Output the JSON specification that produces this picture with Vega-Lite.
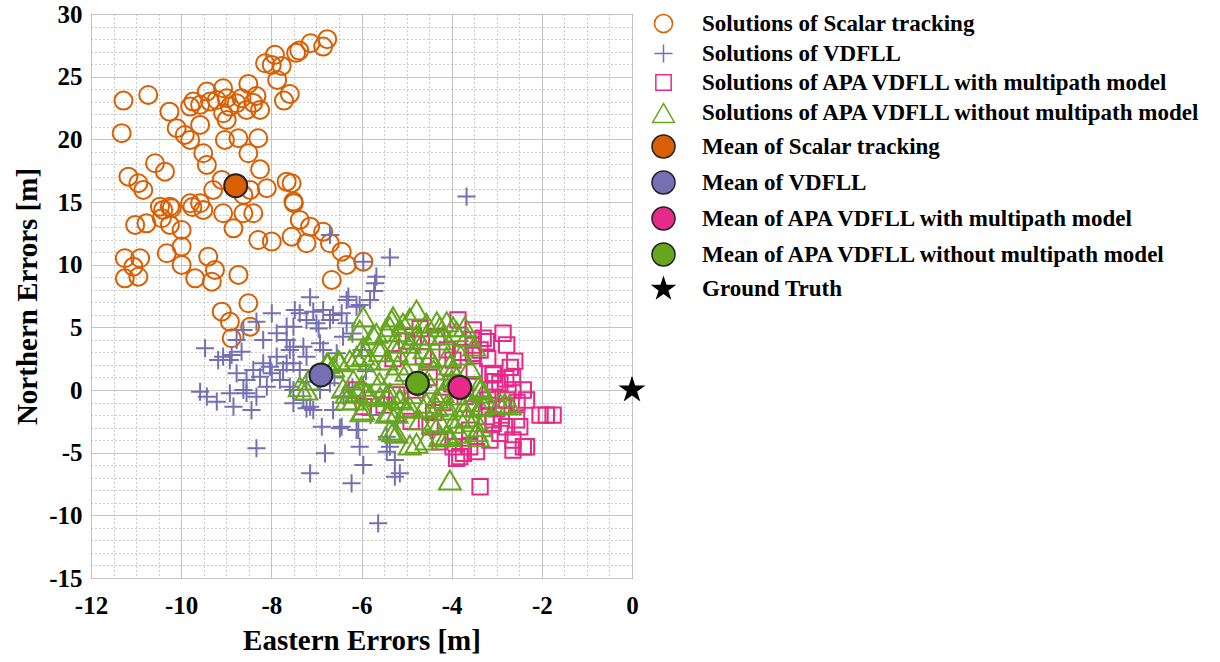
{
"$schema":"https://vega.github.io/schema/vega-lite/v6.json",
"width":541,"height":564,
"autosize":{"type":"none"},
"padding":{"left":91,"top":14,"right":588,"bottom":84},
"background":"white",
"config":{
 "view":{"stroke":"#333333","strokeWidth":1},
 "axis":{"labelFont":"Liberation Serif","labelFontWeight":"bold","labelFontSize":25,"labelColor":"#000","titleFont":"Liberation Serif","titleFontWeight":"bold","titleFontSize":29,"titleColor":"#000","ticks":false,"domain":false,"labelOverlap":false,"labelFlush":false,"grid":true,"gridWidth":1},
 "legend":{"labelFont":"Liberation Serif","labelFontWeight":"bold","labelFontSize":23,"labelColor":"#000","labelLimit":700,"padding":0,"labelOffset":26,"rowPadding":5}
},
"data":{"values":[
{"s":"S","e":-6.76,"n":27.99},{"s":"S","e":-6.85,"n":27.4},{"s":"S","e":-7.13,"n":27.67},{"s":"S","e":-7.38,"n":27.08},{"s":"S","e":-7.45,"n":26.9},{"s":"S","e":-7.92,"n":26.74},{"s":"S","e":-8.14,"n":26.07},{"s":"S","e":-7.99,"n":25.94},{"s":"S","e":-7.77,"n":25.86},{"s":"S","e":-7.87,"n":24.74},
{"s":"S","e":-7.59,"n":23.62},{"s":"S","e":-7.72,"n":23.09},{"s":"S","e":-8.51,"n":24.42},{"s":"S","e":-8.33,"n":23.46},{"s":"S","e":-8.4,"n":22.91},{"s":"S","e":-8.25,"n":22.35},{"s":"S","e":-8.55,"n":22.35},{"s":"S","e":-9.07,"n":24.08},{"s":"S","e":-9.43,"n":23.81},{"s":"S","e":-9.73,"n":23.01},
{"s":"S","e":-9.8,"n":22.61},{"s":"S","e":-9.58,"n":22.75},{"s":"S","e":-9.36,"n":23.01},{"s":"S","e":-9.21,"n":23.14},{"s":"S","e":-8.99,"n":23.28},{"s":"S","e":-8.92,"n":22.61},{"s":"S","e":-9.07,"n":22.08},{"s":"S","e":-8.77,"n":22.88},{"s":"S","e":-8.66,"n":23.28},{"s":"S","e":-11.28,"n":23.09},
{"s":"S","e":-10.73,"n":23.54},{"s":"S","e":-10.26,"n":22.21},{"s":"S","e":-11.32,"n":20.49},{"s":"S","e":-10.1,"n":20.89},{"s":"S","e":-9.92,"n":20.35},{"s":"S","e":-9.8,"n":19.95},{"s":"S","e":-9.58,"n":21.15},{"s":"S","e":-8.99,"n":21.55},{"s":"S","e":-9.03,"n":19.95},{"s":"S","e":-8.73,"n":20.09},
{"s":"S","e":-8.29,"n":20.09},{"s":"S","e":-8.51,"n":18.89},{"s":"S","e":-8.25,"n":17.61},{"s":"S","e":-9.51,"n":18.89},{"s":"S","e":-9.43,"n":17.96},{"s":"S","e":-10.58,"n":18.09},{"s":"S","e":-10.36,"n":17.42},{"s":"S","e":-11.17,"n":17.02},{"s":"S","e":-10.95,"n":16.5},{"s":"S","e":-10.84,"n":15.96},
{"s":"S","e":-9.29,"n":15.96},{"s":"S","e":-9.1,"n":16.76},{"s":"S","e":-8.62,"n":15.56},{"s":"S","e":-8.47,"n":15.96},{"s":"S","e":-8.1,"n":16.1},{"s":"S","e":-7.66,"n":16.62},{"s":"S","e":-7.55,"n":16.5},{"s":"S","e":-7.51,"n":15.03},{"s":"S","e":-10.25,"n":14.63},{"s":"S","e":-10.47,"n":14.63},
{"s":"S","e":-9.8,"n":14.9},{"s":"S","e":-9.58,"n":14.9},{"s":"S","e":-10.4,"n":14.37},{"s":"S","e":-10.21,"n":14.5},{"s":"S","e":-11.02,"n":13.17},{"s":"S","e":-10.77,"n":13.3},{"s":"S","e":-10.43,"n":13.7},{"s":"S","e":-10.25,"n":13.17},{"s":"S","e":-9.99,"n":12.77},{"s":"S","e":-9.75,"n":14.6},
{"s":"S","e":-9.51,"n":14.37},{"s":"S","e":-9.07,"n":14.1},{"s":"S","e":-8.84,"n":12.9},{"s":"S","e":-8.62,"n":14.1},{"s":"S","e":-8.4,"n":14.1},{"s":"S","e":-7.5,"n":14.9},{"s":"S","e":-8.29,"n":11.97},{"s":"S","e":-7.99,"n":11.84},{"s":"S","e":-7.55,"n":12.23},{"s":"S","e":-7.37,"n":13.57},
{"s":"S","e":-7.14,"n":13.03},{"s":"S","e":-7.22,"n":11.71},{"s":"S","e":-6.85,"n":12.63},{"s":"S","e":-6.7,"n":11.71},{"s":"S","e":-6.44,"n":11.04},{"s":"S","e":-6.33,"n":9.98},{"s":"S","e":-5.96,"n":10.24},{"s":"S","e":-6.66,"n":8.78},{"s":"S","e":-11.25,"n":10.51},{"s":"S","e":-11.25,"n":8.91},
{"s":"S","e":-10.91,"n":10.51},{"s":"S","e":-11.06,"n":9.84},{"s":"S","e":-10.95,"n":9.04},{"s":"S","e":-10.32,"n":10.91},{"s":"S","e":-9.99,"n":11.44},{"s":"S","e":-9.99,"n":9.98},{"s":"S","e":-9.69,"n":8.91},{"s":"S","e":-9.4,"n":10.64},{"s":"S","e":-9.25,"n":9.58},{"s":"S","e":-9.32,"n":8.64},
{"s":"S","e":-8.73,"n":9.18},{"s":"S","e":-8.51,"n":6.92},{"s":"S","e":-9.1,"n":6.25},{"s":"S","e":-8.92,"n":5.45},{"s":"S","e":-8.47,"n":5.05},{"s":"S","e":-8.88,"n":4.13},
{"s":"V","e":-6.7,"n":12.37},{"s":"V","e":-5.96,"n":10.24},{"s":"V","e":-5.67,"n":9.04},{"s":"V","e":-5.72,"n":7.9},{"s":"V","e":-5.37,"n":10.58},{"s":"V","e":-3.67,"n":15.43},{"s":"V","e":-6.29,"n":7.45},{"s":"V","e":-7.14,"n":7.4},{"s":"V","e":-7.48,"n":6.38},{"s":"V","e":-7.99,"n":6.12},
{"s":"V","e":-8.33,"n":5.45},{"s":"V","e":-8.62,"n":4.79},{"s":"V","e":-8.77,"n":3.99},{"s":"V","e":-9.47,"n":3.33},{"s":"V","e":-9.07,"n":2.66},{"s":"V","e":-8.92,"n":2.39},{"s":"V","e":-8.66,"n":3.06},{"s":"V","e":-8.18,"n":3.99},{"s":"V","e":-7.88,"n":4.53},{"s":"V","e":-7.66,"n":3.99},
{"s":"V","e":-7.51,"n":5.05},{"s":"V","e":-7.22,"n":5.59},{"s":"V","e":-7.0,"n":5.32},{"s":"V","e":-6.85,"n":6.38},{"s":"V","e":-6.63,"n":5.99},{"s":"V","e":-6.33,"n":5.32},{"s":"V","e":-6.33,"n":7.18},{"s":"V","e":-6.11,"n":6.65},{"s":"V","e":-5.81,"n":7.18},{"s":"V","e":-6.41,"n":4.25},
{"s":"V","e":-6.92,"n":3.73},{"s":"V","e":-7.29,"n":3.46},{"s":"V","e":-7.59,"n":3.19},{"s":"V","e":-7.88,"n":2.66},{"s":"V","e":-8.18,"n":2.13},{"s":"V","e":-8.4,"n":1.6},{"s":"V","e":-8.77,"n":1.33},{"s":"V","e":-8.55,"n":0.8},{"s":"V","e":-7.99,"n":1.33},{"s":"V","e":-7.74,"n":1.6},
{"s":"V","e":-7.51,"n":2.13},{"s":"V","e":-7.22,"n":2.66},{"s":"V","e":-6.85,"n":3.19},{"s":"V","e":-6.55,"n":2.93},{"s":"V","e":-9.58,"n":-0.14},{"s":"V","e":-9.43,"n":-0.53},{"s":"V","e":-8.92,"n":-0.26},{"s":"V","e":-8.55,"n":-0.26},{"s":"V","e":-8.1,"n":0.26},{"s":"V","e":-7.59,"n":0.26},
{"s":"V","e":-7.22,"n":0.66},{"s":"V","e":-5.7,"n":8.52},{"s":"V","e":-6.04,"n":6.78},{"s":"V","e":-7.07,"n":6.25},{"s":"V","e":-7.37,"n":6.12},{"s":"V","e":-7.66,"n":5.05},{"s":"V","e":-6.95,"n":4.9},{"s":"V","e":-6.7,"n":5.59},{"s":"V","e":-6.44,"n":6.12},{"s":"V","e":-7.51,"n":3.46},
{"s":"V","e":-7.66,"n":2.13},{"s":"V","e":-7.37,"n":1.6},{"s":"V","e":-7.51,"n":0},{"s":"V","e":-7.29,"n":-0.8},{"s":"V","e":-7.14,"n":-1.33},{"s":"V","e":-6.92,"n":0},{"s":"V","e":-6.7,"n":0.53},{"s":"V","e":-6.63,"n":-1.6},{"s":"V","e":-6.88,"n":-2.93},{"s":"V","e":-6.44,"n":-2.93},
{"s":"V","e":-6.04,"n":-4.53},{"s":"V","e":-6.11,"n":-3.19},{"s":"V","e":-6.81,"n":-5.05},{"s":"V","e":-7.14,"n":-6.65},{"s":"V","e":-6.22,"n":-7.45},{"s":"V","e":-5.26,"n":-5.59},{"s":"V","e":-5.15,"n":-6.65},{"s":"V","e":-5.37,"n":-4.53},{"s":"V","e":-5.44,"n":-3.73},{"s":"V","e":-9.18,"n":2.39},
{"s":"V","e":-8.88,"n":2.79},{"s":"V","e":-9.21,"n":-0.93},{"s":"V","e":-8.84,"n":-1.33},{"s":"V","e":-8.44,"n":-1.6},{"s":"V","e":-8.62,"n":0},{"s":"V","e":-8.33,"n":-0.53},{"s":"V","e":-8.25,"n":1.06},{"s":"V","e":-8.03,"n":1.86},{"s":"V","e":-7.81,"n":0.8},{"s":"V","e":-7.51,"n":-1.06},
{"s":"V","e":-7.22,"n":-1.46},{"s":"V","e":-7.07,"n":-1.6},{"s":"V","e":-6.48,"n":-3.06},{"s":"V","e":-6.07,"n":-3.19},{"s":"V","e":-8.33,"n":-4.65},{"s":"V","e":-5.96,"n":-5.99},{"s":"V","e":-5.44,"n":-4.92},{"s":"V","e":-5.26,"n":-6.92},{"s":"V","e":-5.63,"n":-10.64},{"s":"V","e":-6.2,"n":4.5},
{"s":"V","e":-6.0,"n":3.2},{"s":"V","e":-5.9,"n":1.5},{"s":"V","e":-6.2,"n":0.2},{"s":"V","e":-5.5,"n":-1.0},{"s":"V","e":-5.2,"n":-2.5},{"s":"V","e":-5.8,"n":-2.0},{"s":"V","e":-6.6,"n":1.0},{"s":"V","e":-6.4,"n":-0.5},
{"s":"W","e":-3.86,"n":5.59},{"s":"W","e":-2.86,"n":4.53},{"s":"W","e":-2.78,"n":3.59},{"s":"W","e":-3.23,"n":3.85},{"s":"W","e":-3.37,"n":3.19},{"s":"W","e":-3.52,"n":2.93},{"s":"W","e":-3.08,"n":1.2},{"s":"W","e":-3.04,"n":0.66},{"s":"W","e":-2.41,"n":0},{"s":"W","e":-2.34,"n":-0.8},
{"s":"W","e":-2.04,"n":-2.0},{"s":"W","e":-1.9,"n":-2.0},{"s":"W","e":-1.75,"n":-2.0},{"s":"W","e":-2.78,"n":-0.8},{"s":"W","e":-2.78,"n":-2.93},{"s":"W","e":-2.93,"n":-3.46},{"s":"W","e":-2.41,"n":-4.53},{"s":"W","e":-2.64,"n":-4.79},{"s":"W","e":-3.74,"n":-5.05},{"s":"W","e":-3.6,"n":-4.53},
{"s":"W","e":-3.15,"n":-3.99},{"s":"W","e":-3.37,"n":-7.72},{"s":"W","e":-2.49,"n":-2.93},{"s":"W","e":-2.56,"n":-2.39},{"s":"W","e":-2.93,"n":0.53},{"s":"W","e":-3.15,"n":0},{"s":"W","e":-3.23,"n":-2.13},{"s":"W","e":-3.08,"n":-2.66},{"s":"W","e":-3.52,"n":3.99},{"s":"W","e":-3.97,"n":2.39},
{"s":"W","e":-3.52,"n":4.79},{"s":"W","e":-3.08,"n":1.33},{"s":"W","e":-2.64,"n":0},{"s":"W","e":-3.08,"n":-2.39},{"s":"W","e":-2.64,"n":-3.99},{"s":"W","e":-2.34,"n":-4.53},{"s":"W","e":-3.82,"n":-5.32},{"s":"W","e":-3.97,"n":-4.53},{"s":"W","e":-4.48,"n":-2.93},{"s":"W","e":-4.63,"n":2.66},
{"s":"W","e":-4.85,"n":4.25},{"s":"W","e":-4.33,"n":4.25},{"s":"W","e":-6.11,"n":0},{"s":"W","e":-5.96,"n":-1.33},{"s":"W","e":-3.3,"n":4.13},{"s":"W","e":-3.52,"n":3.59},{"s":"W","e":-4.26,"n":-4.13},{"s":"W","e":-3.45,"n":-4.92},{"s":"W","e":-3.89,"n":-5.45},{"s":"W","e":-5.22,"n":-0.4},
{"s":"W","e":-4.5,"n":1.0},{"s":"W","e":-4.0,"n":0.5},{"s":"W","e":-3.7,"n":-0.5},{"s":"W","e":-4.2,"n":-1.0},{"s":"W","e":-3.5,"n":1.5},{"s":"W","e":-4.8,"n":0.0},{"s":"W","e":-3.2,"n":2.5},{"s":"W","e":-4.1,"n":3.2},{"s":"W","e":-3.8,"n":3.0},{"s":"W","e":-4.4,"n":-1.8},
{"s":"W","e":-3.0,"n":-1.5},{"s":"W","e":-2.7,"n":1.8},{"s":"W","e":-2.6,"n":2.3},{"s":"W","e":-3.5,"n":-1.5},{"s":"W","e":-4.9,"n":-2.5},{"s":"W","e":-5.3,"n":2.5},{"s":"W","e":-5.5,"n":-1.2},{"s":"W","e":-3.2,"n":-0.8},{"s":"W","e":-4.7,"n":4.9},{"s":"W","e":-5.0,"n":3.9},
{"s":"W","e":-2.9,"n":-2.0},{"s":"W","e":-3.6,"n":-3.2},{"s":"W","e":-2.8,"n":0.9},{"s":"W","e":-2.85,"n":-1.3},{"s":"W","e":-2.55,"n":-1.0},{"s":"W","e":-2.65,"n":1.0},
{"s":"O","e":-4.78,"n":6.38},{"s":"O","e":-5.3,"n":5.85},{"s":"O","e":-5.96,"n":5.85},{"s":"O","e":-6.04,"n":4.79},{"s":"O","e":-5.67,"n":4.53},{"s":"O","e":-5.37,"n":5.05},{"s":"O","e":-5.08,"n":5.32},{"s":"O","e":-4.56,"n":5.32},{"s":"O","e":-4.26,"n":5.05},{"s":"O","e":-3.97,"n":5.05},
{"s":"O","e":-3.71,"n":5.05},{"s":"O","e":-3.67,"n":4.25},{"s":"O","e":-4.26,"n":3.99},{"s":"O","e":-4.71,"n":3.99},{"s":"O","e":-4.93,"n":3.73},{"s":"O","e":-5.22,"n":3.73},{"s":"O","e":-5.59,"n":3.46},{"s":"O","e":-5.96,"n":3.46},{"s":"O","e":-6.11,"n":2.66},{"s":"O","e":-5.81,"n":2.39},
{"s":"O","e":-5.44,"n":2.39},{"s":"O","e":-4.48,"n":2.66},{"s":"O","e":-4.11,"n":2.66},{"s":"O","e":-3.97,"n":1.6},{"s":"O","e":-3.89,"n":1.06},{"s":"O","e":-6.52,"n":2.39},{"s":"O","e":-6.74,"n":2.13},{"s":"O","e":-7.18,"n":0.8},{"s":"O","e":-7.37,"n":0.26},{"s":"O","e":-6.33,"n":-0.26},
{"s":"O","e":-6.18,"n":-0.8},{"s":"O","e":-5.89,"n":-0.26},{"s":"O","e":-5.59,"n":-0.53},{"s":"O","e":-5.37,"n":-0.26},{"s":"O","e":-5.15,"n":-0.8},{"s":"O","e":-5.96,"n":-1.6},{"s":"O","e":-5.44,"n":-1.86},{"s":"O","e":-5.22,"n":-1.86},{"s":"O","e":-4.93,"n":-1.33},{"s":"O","e":-4.56,"n":-1.06},
{"s":"O","e":-4.33,"n":-1.33},{"s":"O","e":-4.11,"n":-1.6},{"s":"O","e":-3.74,"n":-1.33},{"s":"O","e":-3.37,"n":0},{"s":"O","e":-3.37,"n":-1.33},{"s":"O","e":-2.93,"n":-1.06},{"s":"O","e":-2.71,"n":-1.2},{"s":"O","e":-3.67,"n":-2.13},{"s":"O","e":-3.97,"n":-2.66},{"s":"O","e":-4.41,"n":-2.66},
{"s":"O","e":-4.71,"n":-2.39},{"s":"O","e":-5.22,"n":-3.46},{"s":"O","e":-4.78,"n":-4.25},{"s":"O","e":-4.56,"n":-3.99},{"s":"O","e":-4.26,"n":-3.73},{"s":"O","e":-3.82,"n":-3.46},{"s":"O","e":-3.41,"n":-3.73},{"s":"O","e":-3.37,"n":-2.93},{"s":"O","e":-4.04,"n":-7.18},{"s":"O","e":-6.18,"n":0.8},
{"s":"O","e":-5.33,"n":5.59},{"s":"O","e":-4.93,"n":5.72},{"s":"O","e":-4.33,"n":5.45},{"s":"O","e":-4.11,"n":5.45},{"s":"O","e":-5.74,"n":4.39},{"s":"O","e":-5.44,"n":4.65},{"s":"O","e":-5.15,"n":4.65},{"s":"O","e":-4.78,"n":4.39},{"s":"O","e":-4.56,"n":4.39},{"s":"O","e":-4.19,"n":4.39},
{"s":"O","e":-3.89,"n":4.65},{"s":"O","e":-6.48,"n":2.26},{"s":"O","e":-6.26,"n":2.39},{"s":"O","e":-5.96,"n":2.79},{"s":"O","e":-5.59,"n":3.06},{"s":"O","e":-5.22,"n":3.06},{"s":"O","e":-4.85,"n":2.79},{"s":"O","e":-4.48,"n":2.53},{"s":"O","e":-4.04,"n":2.0},{"s":"O","e":-6.41,"n":0.14},
{"s":"O","e":-6.11,"n":-0.14},{"s":"O","e":-5.81,"n":-0.4},{"s":"O","e":-5.44,"n":-0.4},{"s":"O","e":-5.15,"n":-0.66},{"s":"O","e":-4.33,"n":-0.66},{"s":"O","e":-4.11,"n":-1.2},{"s":"O","e":-3.6,"n":-0.93},{"s":"O","e":-3.34,"n":0.14},{"s":"O","e":-3.3,"n":-1.2},{"s":"O","e":-6.0,"n":-1.73},
{"s":"O","e":-5.37,"n":-1.73},{"s":"O","e":-5.0,"n":-1.46},{"s":"O","e":-4.63,"n":-1.46},{"s":"O","e":-4.26,"n":-2.53},{"s":"O","e":-3.82,"n":-2.26},{"s":"O","e":-3.52,"n":-2.53},{"s":"O","e":-5.3,"n":-3.33},{"s":"O","e":-4.93,"n":-4.39},{"s":"O","e":-4.11,"n":-3.59},{"s":"O","e":-3.45,"n":-3.33},
{"s":"O","e":-7.22,"n":0},{"s":"O","e":-6.63,"n":1.86},{"s":"O","e":-6.77,"n":2.13},{"s":"O","e":-6.33,"n":-0.8},{"s":"O","e":-5.37,"n":-3.19},{"s":"O","e":-3.41,"n":0.26},{"s":"O","e":-3.3,"n":-0.26},{"s":"O","e":-2.82,"n":-1.06},{"s":"O","e":-4.04,"n":-3.73},{"s":"O","e":-5.0,"n":1.5},
{"s":"O","e":-4.7,"n":1.0},{"s":"O","e":-5.3,"n":1.2},{"s":"O","e":-4.5,"n":0.5},{"s":"O","e":-4.2,"n":-0.2},{"s":"O","e":-5.6,"n":0.6},{"s":"O","e":-4.9,"n":-0.3},{"s":"O","e":-3.9,"n":-0.4},{"s":"O","e":-4.4,"n":1.6},{"s":"O","e":-5.2,"n":2.0},{"s":"O","e":-4.0,"n":0.8},
{"s":"O","e":-3.6,"n":1.8},{"s":"O","e":-3.5,"n":3.5},{"s":"O","e":-5.8,"n":1.2},{"s":"O","e":-6.0,"n":0.3},{"s":"O","e":-4.6,"n":3.3},{"s":"O","e":-3.8,"n":2.8},
{"s":"MS","e":-8.79,"n":16.3},{"s":"MV","e":-6.9,"n":1.2},{"s":"MW","e":-3.82,"n":0.21},{"s":"MO","e":-4.76,"n":0.53},{"s":"GT","e":0,"n":0}
]},
"mark":{"type":"point","opacity":1,"strokeWidth":2},
"encoding":{
 "x":{"field":"e","type":"quantitative","scale":{"domain":[-12,0],"nice":false,"zero":false},
      "axis":{"values":[-12,-11.5,-11,-10.5,-10,-9.5,-9,-8.5,-8,-7.5,-7,-6.5,-6,-5.5,-5,-4.5,-4,-3.5,-3,-2.5,-2,-1.5,-1,-0.5,0],
       "labelExpr":"datum.value % 2 === 0 ? ''+datum.value : ''",
       "gridDash":{"condition":{"test":"datum.value % 2 === 0","value":[]},"value":[1,3]},
       "gridColor":{"condition":{"test":"datum.value % 2 === 0","value":"#c4c4c4"},"value":"#9a9a9a"},
       "labelPadding":15,"titlePadding":8,"minExtent":40,"maxExtent":40,"title":"Eastern Errors [m]"}},
 "y":{"field":"n","type":"quantitative","scale":{"domain":[-15,30],"nice":false,"zero":false},
      "axis":{"values":[-15,-14,-13,-12,-11,-10,-9,-8,-7,-6,-5,-4,-3,-2,-1,0,1,2,3,4,5,6,7,8,9,10,11,12,13,14,15,16,17,18,19,20,21,22,23,24,25,26,27,28,29,30],
       "labelExpr":"datum.value % 5 === 0 ? ''+datum.value : ''",
       "gridDash":{"condition":{"test":"datum.value % 5 === 0","value":[]},"value":[1,3]},
       "gridColor":{"condition":{"test":"datum.value % 5 === 0","value":"#c4c4c4"},"value":"#9a9a9a"},
       "labelPadding":9,"titlePadding":7,"minExtent":42,"maxExtent":42,"title":"Northern Errors [m]"}},
 "shape":{"field":"s","type":"nominal","scale":{"domain":["S","V","W","O","MS","MV","MW","MO","GT"],"range":["circle","M-1,0L1,0M0,-1L0,1","square","triangle-up","circle","circle","circle","circle","M0,-1L0.2245,-0.309L0.951,-0.309L0.363,0.118L0.588,0.809L0,0.382L-0.588,0.809L-0.363,0.118L-0.951,-0.309L-0.2245,-0.309Z"]},
      "legend":{"title":null,"orient":"none","legendX":560,"legendY":-2,"direction":"vertical","labelExpr":"datum.label=='S'?'Solutions of Scalar tracking':datum.label=='V'?'Solutions of VDFLL':datum.label=='W'?'Solutions of APA VDFLL with multipath model':datum.label=='O'?'Solutions of APA VDFLL without multipath model':datum.label=='MS'?'Mean of Scalar tracking':datum.label=='MV'?'Mean of VDFLL':datum.label=='MW'?'Mean of APA VDFLL with multipath model':datum.label=='MO'?'Mean of APA VDFLL without multipath model':'Ground Truth'"}},
 "stroke":{"field":"s","type":"nominal","scale":{"domain":["S","V","W","O","MS","MV","MW","MO","GT"],"range":["#D95F02","#7570B3","#E7298A","#66A61E","#222222","#222222","#222222","#222222","#000000"]},
      "legend":{"title":null,"orient":"none","legendX":560,"legendY":-2,"direction":"vertical","labelExpr":"datum.label=='S'?'Solutions of Scalar tracking':datum.label=='V'?'Solutions of VDFLL':datum.label=='W'?'Solutions of APA VDFLL with multipath model':datum.label=='O'?'Solutions of APA VDFLL without multipath model':datum.label=='MS'?'Mean of Scalar tracking':datum.label=='MV'?'Mean of VDFLL':datum.label=='MW'?'Mean of APA VDFLL with multipath model':datum.label=='MO'?'Mean of APA VDFLL without multipath model':'Ground Truth'"}},
 "fill":{"field":"s","type":"nominal","scale":{"domain":["S","V","W","O","MS","MV","MW","MO","GT"],"range":["transparent","transparent","transparent","transparent","#D95F02","#7570B3","#E7298A","#66A61E","#000000"]},
      "legend":{"title":null,"orient":"none","legendX":560,"legendY":-2,"direction":"vertical","labelExpr":"datum.label=='S'?'Solutions of Scalar tracking':datum.label=='V'?'Solutions of VDFLL':datum.label=='W'?'Solutions of APA VDFLL with multipath model':datum.label=='O'?'Solutions of APA VDFLL without multipath model':datum.label=='MS'?'Mean of Scalar tracking':datum.label=='MV'?'Mean of VDFLL':datum.label=='MW'?'Mean of APA VDFLL with multipath model':datum.label=='MO'?'Mean of APA VDFLL without multipath model':'Ground Truth'"}},
 "size":{"field":"s","type":"nominal","scale":{"type":"ordinal","domain":["S","V","W","O","MS","MV","MW","MO","GT"],"range":[324,330,235,480,530,530,530,530,484]},
      "legend":{"title":null,"orient":"none","legendX":560,"legendY":-2,"direction":"vertical","labelExpr":"datum.label=='S'?'Solutions of Scalar tracking':datum.label=='V'?'Solutions of VDFLL':datum.label=='W'?'Solutions of APA VDFLL with multipath model':datum.label=='O'?'Solutions of APA VDFLL without multipath model':datum.label=='MS'?'Mean of Scalar tracking':datum.label=='MV'?'Mean of VDFLL':datum.label=='MW'?'Mean of APA VDFLL with multipath model':datum.label=='MO'?'Mean of APA VDFLL without multipath model':'Ground Truth'"}}
}
}
